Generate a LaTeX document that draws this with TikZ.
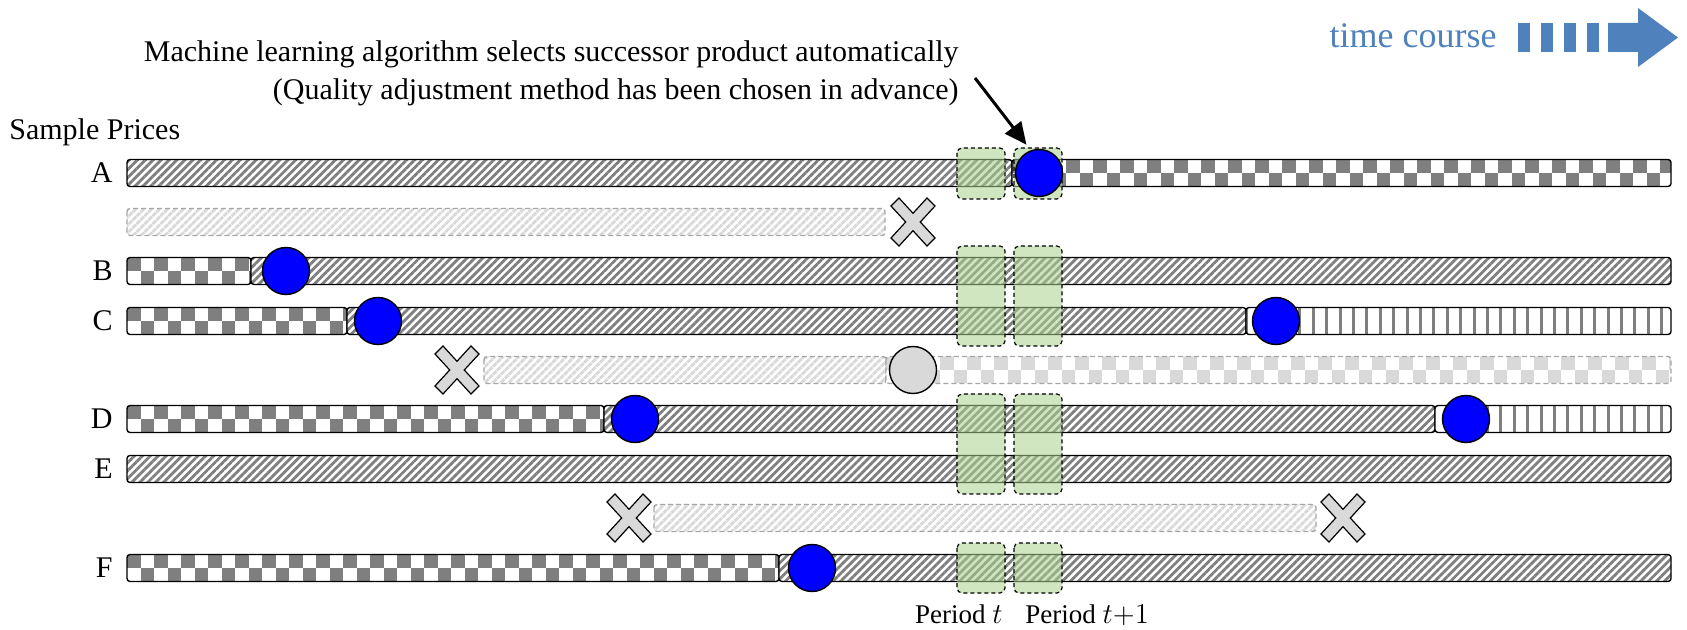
\documentclass[tikz,border=0pt]{standalone}
\usepackage{fontspec}
\setmainfont{Liberation Serif}
\usepackage{tikz}
\usetikzlibrary{patterns.meta,arrows.meta}

\definecolor{hatchgray}{HTML}{7F7F7F}
\definecolor{fadegray}{HTML}{D9D9D9}
\definecolor{fadeline}{HTML}{A6A6A6}
\definecolor{periodgreen}{HTML}{A9D18E}
\definecolor{tcblue}{HTML}{4F81BD}

\begin{document}
\begin{tikzpicture}[x=0.5pt,y=-0.5pt,
  seg/.style={draw=black,line width=0.7pt,rounded corners=1.5pt},
  fade/.style={draw=fadeline,line width=0.7pt,dash pattern=on 2.5pt off 1.5pt,rounded corners=1.5pt},
  hatch/.style={preaction={fill=white},pattern={Lines[angle=45,distance=2.8pt,line width=1.4pt]},pattern color=#1},
  hatch/.default=hatchgray,
  stripes/.style={preaction={fill=white},pattern={Lines[angle=90,distance=6.7pt,line width=1.5pt]},pattern color=#1},
  stripes/.default=hatchgray,
  checker/.style={preaction={fill=white},path picture={
    \foreach \i in {0,...,31} {
      \fill[#1,sharp corners] ([xshift=\i*13.5pt]path picture bounding box.north west) rectangle ++(13.5,13.5);
      \fill[#1,sharp corners] ([xshift=\i*13.5pt+6.75pt,yshift=-6.75pt]path picture bounding box.north west) rectangle ++(13.5,13.5);
    }}},
  checker/.default=hatchgray,
  fhatch/.style={hatch=fadegray},
  fchecker/.style={checker=fadegray},
  period/.style={draw=black,line width=0.6pt,dash pattern=on 2pt off 1.5pt,rounded corners=2.5pt,fill=periodgreen,fill opacity=0.55},
  bluedot/.style={circle,draw=black,line width=0.7pt,fill=blue,minimum size=23.5pt,inner sep=0pt},
  greydot/.style={bluedot,fill=fadegray},
  lbl/.style={font=\fontsize{15}{19}\selectfont,inner sep=0pt},
  xmark/.pic={\draw[line width=0.6pt,fill=fadegray] (-22,-16) -- (-14,-24) -- (0,-8.7) -- (14,-24) -- (22,-16) -- (7.3,0)
     -- (22,16) -- (14,24) -- (0,8.7) -- (-14,24) -- (-22,16) -- (-7.3,0) -- cycle;}]
\useasboundingbox (0,0) rectangle (1687,630);

% sample price bars
\foreach \y/\a/\b/\s in %
{173/127/1012/hatch,173/1012/1671/checker,271/127/251/checker,271/251/1671/hatch,
 321/127/347/checker,321/347/1246/hatch,321/1246/1671/stripes,
 419/127/604/checker,419/604/1435/hatch,419/1435/1671/stripes,
 469/127/1671/hatch,568/127/779/checker,568/779/1671/hatch} {
   \draw[seg,\s] (\a,\y-13.5) rectangle (\b,\y+13.5);
}
\foreach \y/\a/\b/\s in %
{222/127/885/fhatch,370/484/886/fhatch,370/886/1671/fchecker,518/654/1316/fhatch} {
   \draw[fade,\s] (\a,\y-13.5) rectangle (\b,\y+13.5);
}

% periods t and t+1
\foreach \t/\b in %
{148/199,246/346,394/494,543/593} {
   \draw[period] (957,\t) rectangle (1005,\b);
   \draw[period] (1014,\t) rectangle (1062,\b);
}

\foreach \n/\x/\y in %
{A/1039/173,B/286/271,C1/378/321,C2/1276/321,D1/635/419,D2/1466/419,F/812/568} {
   \node[bluedot] (c\n) at (\x,\y) {};
}
\node[greydot] (gC) at (913,370) {};
\foreach \n/\x/\y in %
{1/913/222,2/457/370,3/629/518,4/1343/518} {
   \pic (x\n) at (\x,\y) {xmark};
}

\node[lbl,anchor=base west] (sp) at (9,140) {Sample Prices};
\foreach \y/\l in %
{173/A,271/B,321/C,419/D,469/E,568/F} {
   \node[lbl,anchor=east] (l\l) at (113,\y) {\l};
}
\node[lbl,align=right,anchor=north east] (note) at (959,40)
   {Machine learning algorithm selects successor product automatically\\(Quality adjustment method has been chosen in advance)};
\coordinate (tail) at (975,78);
\draw[line width=1.5pt,-{Triangle[length=11pt,width=10pt]},shorten >=3.5pt] (tail) -- (cA.110);

\node[anchor=base east,font=\fontsize{13.5}{16}\selectfont,inner sep=0pt] (pt) at (1003,623) {Period $t$};
\node[anchor=base west,font=\fontsize{13.5}{16}\selectfont,inner sep=0pt] (pt1) at (1025,623) {Period $t{+}1$};

% time course arrow
\node[anchor=base east,font=\fontsize{18}{20}\selectfont,text=tcblue,inner sep=0pt] (tc) at (1497,48) {time course};
\foreach \x in {1518,1541,1564,1587} {
   \fill[tcblue] (\x,23) rectangle ++(12,29);
}
\fill[tcblue] (1608,23) -- (1638,23) -- (1638,8) -- (1678,37.5) -- (1638,67) -- (1638,52) -- (1608,52) -- cycle;
\end{tikzpicture}
\end{document}
